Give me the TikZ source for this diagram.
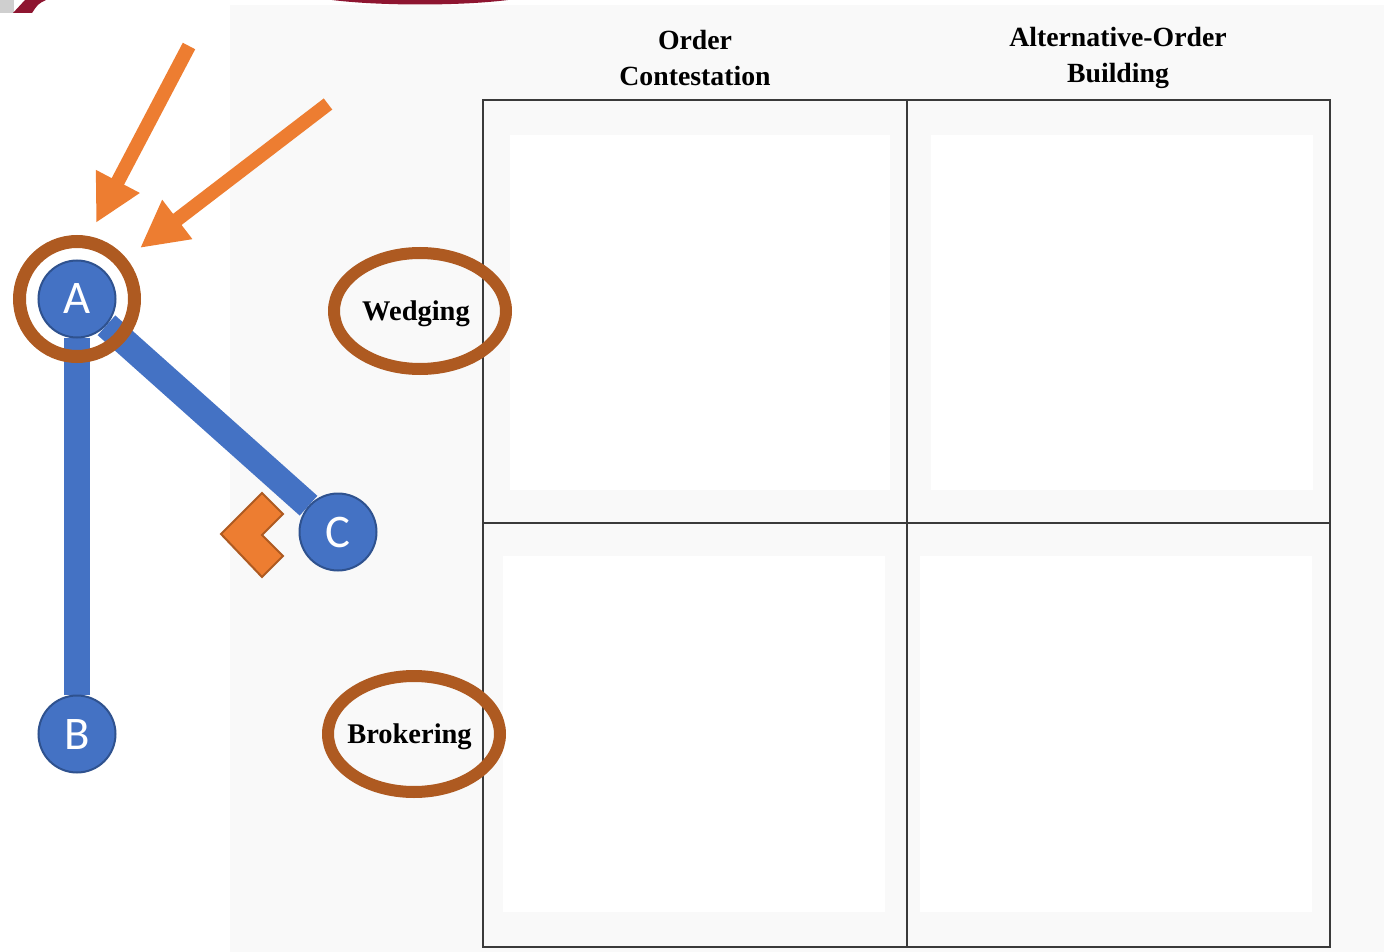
\documentclass[tikz,border=0pt]{standalone}
\usepackage{fontspec}
\setmainfont{Liberation Serif}
\newfontfamily\letterfont{Carlito}
\usetikzlibrary{positioning,shapes.geometric,arrows.meta,backgrounds}
\definecolor{nodeblue}{HTML}{4472C4}
\definecolor{nodeedge}{HTML}{2F528F}
\definecolor{ringbrown}{HTML}{AE5A21}
\definecolor{arroworange}{HTML}{ED7D31}
\definecolor{rulegrey}{HTML}{3A3A3A}
\definecolor{pagegrey}{HTML}{F9F9F9}
\definecolor{slidered}{HTML}{8E1530}
\definecolor{slidegrey}{HTML}{CFCFCF}

\begin{document}
\begin{tikzpicture}[x=0.1mm, y=-0.1mm,
    vertex/.style={circle, fill=nodeblue, draw=nodeedge, line width=0.2mm, minimum size=7.7mm, inner sep=0pt,
      text=white, font=\letterfont\fontsize{13.3}{16}\selectfont},
    link/.style={draw=nodeblue, line width=2.65mm},
    ring/.style={circle, draw=ringbrown, line width=1.3mm, minimum size=11.5mm, inner sep=0pt},
    hloval/.style={ellipse, draw=ringbrown, line width=1.2mm, minimum width=17.2mm, minimum height=11.6mm,
      inner sep=0pt, text depth=0pt, font=\fontsize{8.1}{10}\selectfont\bfseries},
    head/.style={align=center, font=\fontsize{7.9}{10}\selectfont\bfseries},
    pointer/.style={draw=arroworange, line width=1.4mm, -{Triangle[length=4.7mm,width=4.6mm]}},
    rule/.style={draw=rulegrey, line width=0.2mm}]
  \useasboundingbox (0,0) rectangle (1384,952);

  % slide remnants along the top edge
  \fill[slidegrey] (0,0) rectangle (14,13);
  \fill[slidered] (13,13) -- (25,0) -- (46,0) .. controls (38,4) .. (32,13) -- cycle;
  \fill[slidered] (332,0) .. controls (380,6) and (460,6) .. (508,0) -- cycle;

  \begin{scope}[on background layer]
    \fill[pagegrey] (230,5) rectangle (1384,952);
    \fill[white] (510,135) rectangle (890,490);
    \fill[white] (931,135) rectangle (1313,490);
    \fill[white] (503,556) rectangle (885,912);
    \fill[white] (920,556) rectangle (1312,912);
  \end{scope}

  % the typology table
  \draw[rule] (483,100) rectangle (1330,947);
  \draw[rule] (907,100) -- (907,947);
  \draw[rule] (483,523) -- (1330,523);
  \node[head] (orderhead) at (695,58) {Order\\Contestation};
  \node[head] (buildhead) at (1118,58) {Alternative-Order\\Building};
  \node[hloval] (wedging) at (420,311) {\makebox[0pt]{Wedging\hspace*{0.8mm}}};
  \node[hloval] (brokering) at (414,734) {\makebox[0pt]{Brokering\hspace*{0.9mm}}};

  % the triad
  \node[vertex] (A) at (77,299) {A};
  \node[vertex] (B) at (77,734) {B};
  \node[vertex] (C) at (338,532) {C};
  \node[ring] (Aring) at (A) {};
  \begin{scope}[on background layer]
    \draw[link] (A) -- (B);
    \draw[link] (A) -- (C);
  \end{scope}

  % pointers at A
  \coordinate (tailone) at (189,46);
  \coordinate (tipone) at (96,223);
  \coordinate (tailtwo) at (328,104);
  \coordinate (tiptwo) at (140,248);
  \draw[pointer] (tailone) -- (tipone);
  \draw[pointer] (tailtwo) -- (tiptwo);

  % chevron next to C
  \filldraw[fill=arroworange, draw=ringbrown, line width=0.2mm]
    (221,534) -- (262,493) -- (283,514) -- (262,535) -- (283,556) -- (262,577) -- cycle;
\end{tikzpicture}
\end{document}
